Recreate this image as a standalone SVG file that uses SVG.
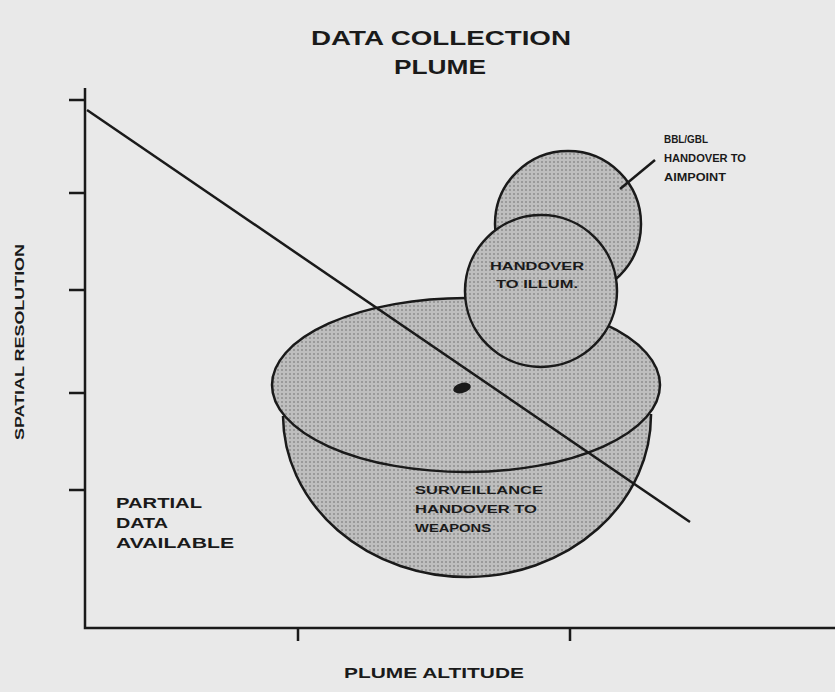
<svg xmlns="http://www.w3.org/2000/svg" width="835" height="692" viewBox="0 0 835 692">
<defs>
<pattern id="dots" width="4" height="4" patternUnits="userSpaceOnUse">
<rect width="4" height="4" fill="#bebebe"/>
<circle cx="2" cy="2" r="1" fill="#8e8e8e"/>
</pattern>
</defs>
<style>
.t{font-family:"Liberation Sans",Arial,sans-serif;font-weight:bold;fill:#1a1a1a}
.shape{fill:url(#dots);stroke:#1a1a1a;stroke-width:2.5}
.ax{stroke:#1a1a1a;stroke-width:2.5;fill:none}
</style>
<rect width="835" height="692" fill="#e9e9e9"/>
<g id="title">
<text class="t" x="441" y="45" font-size="20" text-anchor="middle" textLength="260" lengthAdjust="spacingAndGlyphs">DATA COLLECTION</text>
<text class="t" x="440" y="74" font-size="20" text-anchor="middle" textLength="92" lengthAdjust="spacingAndGlyphs">PLUME</text>
</g>
<g id="axes">
<path class="ax" d="M85 88 V628 H835"/>
<path class="ax" d="M69 100 H85 M69 193 H85 M69 290 H85 M69 393 H85 M69 490 H85 M298 628 V641 M570 628 V641"/>
<text class="t" transform="translate(24 342) rotate(-90)" font-size="13" text-anchor="middle" textLength="196" lengthAdjust="spacingAndGlyphs">SPATIAL RESOLUTION</text>
<text class="t" x="434" y="678" font-size="14" text-anchor="middle" textLength="180" lengthAdjust="spacingAndGlyphs">PLUME ALTITUDE</text>
</g>
<g id="surveillance">
<path class="shape" d="M283 416 A184 162 0 0 0 651 414"/>
<ellipse class="shape" cx="466" cy="385" rx="194" ry="87"/>
<ellipse cx="462" cy="388" rx="9" ry="5" fill="#1a1a1a" transform="rotate(-15 462 388)"/>
<text class="t" x="415" y="494" font-size="11" textLength="128" lengthAdjust="spacingAndGlyphs">SURVEILLANCE</text>
<text class="t" x="415" y="513" font-size="11" textLength="122" lengthAdjust="spacingAndGlyphs">HANDOVER TO</text>
<text class="t" x="415" y="532" font-size="11" textLength="76" lengthAdjust="spacingAndGlyphs">WEAPONS</text>
</g>
<g id="aimpoint">
<circle class="shape" cx="568" cy="224" r="73"/>
<line class="ax" x1="620" y1="189" x2="655" y2="160"/>
<text class="t" x="664" y="143" font-size="10" textLength="44" lengthAdjust="spacingAndGlyphs">BBL/GBL</text>
<text class="t" x="664" y="162" font-size="10" textLength="82" lengthAdjust="spacingAndGlyphs">HANDOVER TO</text>
<text class="t" x="664" y="181" font-size="10" textLength="62" lengthAdjust="spacingAndGlyphs">AIMPOINT</text>
</g>
<g id="illum">
<circle class="shape" cx="541" cy="291" r="76"/>
<text class="t" x="537" y="270" font-size="11" text-anchor="middle" textLength="94" lengthAdjust="spacingAndGlyphs">HANDOVER</text>
<text class="t" x="537" y="288" font-size="11" text-anchor="middle" textLength="82" lengthAdjust="spacingAndGlyphs">TO ILLUM.</text>
</g>
<g id="partial">
<text class="t" x="116" y="508" font-size="15" textLength="86" lengthAdjust="spacingAndGlyphs">PARTIAL</text>
<text class="t" x="116" y="528" font-size="15" textLength="52" lengthAdjust="spacingAndGlyphs">DATA</text>
<text class="t" x="116" y="548" font-size="15" textLength="118" lengthAdjust="spacingAndGlyphs">AVAILABLE</text>
</g>
<g id="connectors">
<line class="ax" x1="87" y1="110" x2="690" y2="522"/>
</g>
</svg>
